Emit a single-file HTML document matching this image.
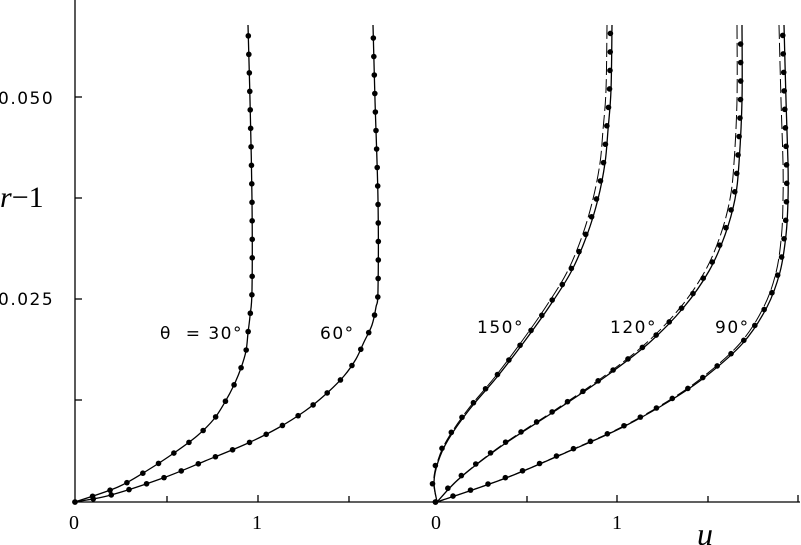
<!DOCTYPE html>
<html><head><meta charset="utf-8"><style>
body{margin:0;background:#fff}
svg{display:block}
text{font-family:"DejaVu Sans","Liberation Sans",sans-serif;font-size:17px;fill:#000}
.t{letter-spacing:1.5px}
</style></head><body>
<svg id="s" width="801" height="545" viewBox="0 0 801 545" xmlns="http://www.w3.org/2000/svg">
<g stroke="#000" stroke-width="1.3" fill="none">
<line x1="75" y1="0" x2="75" y2="502"/>
<line x1="75" y1="502" x2="800" y2="502"/>
<line x1="75" y1="97" x2="82" y2="97"/>
<line x1="75" y1="198" x2="82" y2="198"/>
<line x1="75" y1="299" x2="82" y2="299"/>
<line x1="75" y1="400" x2="82" y2="400"/>
<line x1="167" y1="502" x2="167" y2="496"/>
<line x1="258" y1="502" x2="258" y2="495"/>
<line x1="349" y1="502" x2="349" y2="496"/>
<line x1="527" y1="502" x2="527" y2="496"/>
<line x1="617" y1="502" x2="617" y2="495"/>
<line x1="708" y1="502" x2="708" y2="496"/>
<line x1="798" y1="502" x2="798" y2="495"/>
</g>
<text class="t" x="-2" y="104">0.050</text>
<text class="t" x="-2" y="305">0.025</text>
<text x="0" y="207" style="font-family:'Liberation Serif',serif;font-size:30px;font-style:italic">r<tspan font-style="normal">−1</tspan></text>
<text x="69" y="529" style="font-family:'Liberation Serif',serif;font-size:20px">0</text>
<text x="252" y="529" style="font-family:'Liberation Serif',serif;font-size:20px">1</text>
<text x="431" y="529" style="font-family:'Liberation Serif',serif;font-size:20px">0</text>
<text x="612" y="529" style="font-family:'Liberation Serif',serif;font-size:20px">1</text>
<text x="697" y="545" style="font-family:'Liberation Serif',serif;font-size:32px;font-style:italic">u</text>
<text class="t" x="160" y="339" xml:space="preserve">θ  = 30°</text>
<text class="t" x="320" y="339">60°</text>
<text class="t" x="477" y="333">150°</text>
<text class="t" x="610" y="333">120°</text>
<text class="t" x="715" y="333">90°</text>
<g id="c"></g>
</svg>
<script>
var curves={
c30:[[248,25],[250,100],[252,200],[252,290],[250,316],[248,333],[246,351],[241,368],[234,385],[225,402],[214,419],[197,436],[174,453],[148,470],[118,487],[75,502]],
c60:[[373,25],[375,100],[378,200],[378,290],[376,307],[372,325],[364,342],[356,359],[344,376],[326,394],[305,411],[278,428],[246,444],[205,461],[163,478],[111,495],[75,502]],
c150:[[612,25],[611,90],[608,130],[605,163],[598,199],[587,235],[571,272],[549,307],[524,342],[497,377],[469,410],[448,440],[438,462],[434,482],[437,502]],
c120:[[742,25],[742,100],[739,163],[735,199],[725,235],[709,271],[684,307],[649,343],[605,377],[555,411],[503,445],[460,478],[437,502]],
c90:[[784,25],[786,100],[788,163],[788,200],[786,235],[780,272],[767,307],[743,343],[705,377],[668,402],[621,428],[565,453],[506,478],[437,502]]
};
function cr(p){var d="M"+p[0][0]+","+p[0][1];for(var i=0;i<p.length-1;i++){var p0=p[i-1]||p[i],p1=p[i],p2=p[i+1],p3=p[i+2]||p2;
d+=" C"+(p1[0]+(p2[0]-p0[0])/6)+","+(p1[1]+(p2[1]-p0[1])/6)+" "+(p2[0]-(p3[0]-p1[0])/6)+","+(p2[1]-(p3[1]-p1[1])/6)+" "+p2[0]+","+p2[1];}return d;}
var g=document.getElementById("c"),NS="http://www.w3.org/2000/svg";
for(var k in curves){var p=curves[k];var d=cr(p);
var e=document.createElementNS(NS,"path");e.setAttribute("d",d);e.setAttribute("fill","none");e.setAttribute("stroke","#000");e.setAttribute("stroke-width","1.3");g.appendChild(e);
var side=(k=="c150"||k=="c120"||k=="c90");
if(side){var q=p.map(function(a){var f=(502-a[1])/477;return [a[0]-5*Math.min(1,f*1.6),a[1]];});
var e2=document.createElementNS(NS,"path");e2.setAttribute("d",cr(q));e2.setAttribute("fill","none");e2.setAttribute("stroke","#000");e2.setAttribute("stroke-width","1");e2.setAttribute("stroke-dasharray","14,4");g.appendChild(e2);}
var L=e.getTotalLength();for(var s=0;s<=L-8;s+=18.5){var pt=e.getPointAtLength(L-s);
var c=document.createElementNS(NS,"circle");c.setAttribute("cx",pt.x+(side?-1.5:0));c.setAttribute("cy",pt.y);c.setAttribute("r","2.8");c.setAttribute("fill","#000");g.appendChild(c);}}
</script>
</body></html>
